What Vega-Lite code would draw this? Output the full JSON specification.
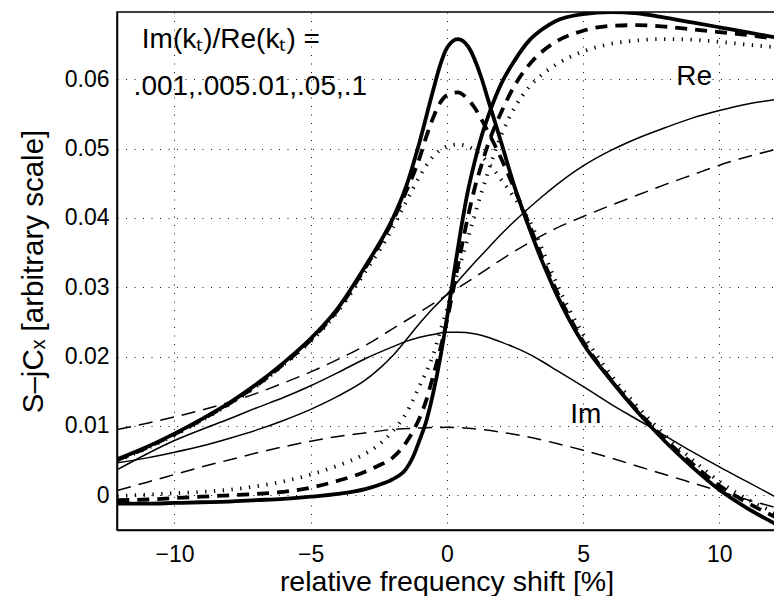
{
  "$schema": "https://vega.github.io/schema/vega-lite/v6.json",
  "width": 659,
  "height": 518,
  "autosize": {"type": "none"},
  "padding": {"left": 117, "top": 12, "right": 0, "bottom": 66},
  "background": "white",
  "config": {
    "font": "Liberation Sans",
    "view": {"stroke": "black", "strokeWidth": 1.5},
    "axis": {
      "labelFont": "Liberation Sans", "labelFontSize": 23, "labelColor": "black",
      "titleFont": "Liberation Sans", "titleFontSize": 28.5, "titleFontWeight": "normal", "titleColor": "black",
      "domainColor": "black", "domainWidth": 1.5,
      "ticks": false, "tickSize": 0,
      "grid": true, "gridColor": "#111", "gridDash": [1, 7.5], "gridWidth": 1, "gridOpacity": 1
    }
  },
  "datasets": {
    "curves": [
      {"k": ".001", "p": "Im", "x": -12.1, "y": 0.0052}, {"k": ".001", "p": "Im", "x": -11, "y": 0.0070}, {"k": ".001", "p": "Im", "x": -10, "y": 0.0089}, {"k": ".001", "p": "Im", "x": -9, "y": 0.0110}, {"k": ".001", "p": "Im", "x": -8, "y": 0.0133}, {"k": ".001", "p": "Im", "x": -7, "y": 0.0160}, {"k": ".001", "p": "Im", "x": -6, "y": 0.0191}, {"k": ".001", "p": "Im", "x": -5, "y": 0.0226}, {"k": ".001", "p": "Im", "x": -4, "y": 0.0270}, {"k": ".001", "p": "Im", "x": -3, "y": 0.0330}, {"k": ".001", "p": "Im", "x": -2.5, "y": 0.0362}, {"k": ".001", "p": "Im", "x": -2, "y": 0.0398}, {"k": ".001", "p": "Im", "x": -1.5, "y": 0.0445}, {"k": ".001", "p": "Im", "x": -1, "y": 0.0510}, {"k": ".001", "p": "Im", "x": -0.5, "y": 0.0585}, {"k": ".001", "p": "Im", "x": -0.25, "y": 0.0620}, {"k": ".001", "p": "Im", "x": 0, "y": 0.0645}, {"k": ".001", "p": "Im", "x": 0.4, "y": 0.0658}, {"k": ".001", "p": "Im", "x": 0.8, "y": 0.0646}, {"k": ".001", "p": "Im", "x": 1.25, "y": 0.0604}, {"k": ".001", "p": "Im", "x": 1.5, "y": 0.0572}, {"k": ".001", "p": "Im", "x": 2, "y": 0.0508}, {"k": ".001", "p": "Im", "x": 2.5, "y": 0.0443}, {"k": ".001", "p": "Im", "x": 3, "y": 0.0388}, {"k": ".001", "p": "Im", "x": 3.5, "y": 0.0337}, {"k": ".001", "p": "Im", "x": 4, "y": 0.0292}, {"k": ".001", "p": "Im", "x": 5, "y": 0.0219}, {"k": ".001", "p": "Im", "x": 6, "y": 0.0167}, {"k": ".001", "p": "Im", "x": 7, "y": 0.0120}, {"k": ".001", "p": "Im", "x": 8, "y": 0.0078}, {"k": ".001", "p": "Im", "x": 9, "y": 0.0041}, {"k": ".001", "p": "Im", "x": 10, "y": 0.0008}, {"k": ".001", "p": "Im", "x": 11, "y": -0.0018}, {"k": ".001", "p": "Im", "x": 12.1, "y": -0.0042},

      {"k": ".005", "p": "Im", "x": -12.1, "y": 0.0051}, {"k": ".005", "p": "Im", "x": -11, "y": 0.0069}, {"k": ".005", "p": "Im", "x": -10, "y": 0.0088}, {"k": ".005", "p": "Im", "x": -9, "y": 0.0109}, {"k": ".005", "p": "Im", "x": -8, "y": 0.0132}, {"k": ".005", "p": "Im", "x": -7, "y": 0.0158}, {"k": ".005", "p": "Im", "x": -6, "y": 0.0189}, {"k": ".005", "p": "Im", "x": -5, "y": 0.0224}, {"k": ".005", "p": "Im", "x": -4, "y": 0.0268}, {"k": ".005", "p": "Im", "x": -3, "y": 0.0328}, {"k": ".005", "p": "Im", "x": -2.5, "y": 0.0360}, {"k": ".005", "p": "Im", "x": -2, "y": 0.0395}, {"k": ".005", "p": "Im", "x": -1.5, "y": 0.0438}, {"k": ".005", "p": "Im", "x": -1, "y": 0.0487}, {"k": ".005", "p": "Im", "x": -0.75, "y": 0.0518}, {"k": ".005", "p": "Im", "x": -0.5, "y": 0.0545}, {"k": ".005", "p": "Im", "x": -0.25, "y": 0.0566}, {"k": ".005", "p": "Im", "x": 0, "y": 0.0577}, {"k": ".005", "p": "Im", "x": 0.4, "y": 0.0581}, {"k": ".005", "p": "Im", "x": 0.75, "y": 0.0572}, {"k": ".005", "p": "Im", "x": 1, "y": 0.0560}, {"k": ".005", "p": "Im", "x": 1.5, "y": 0.0525}, {"k": ".005", "p": "Im", "x": 2, "y": 0.0485}, {"k": ".005", "p": "Im", "x": 2.5, "y": 0.0440}, {"k": ".005", "p": "Im", "x": 3, "y": 0.0393}, {"k": ".005", "p": "Im", "x": 3.5, "y": 0.0342}, {"k": ".005", "p": "Im", "x": 4, "y": 0.0297}, {"k": ".005", "p": "Im", "x": 5, "y": 0.0222}, {"k": ".005", "p": "Im", "x": 6, "y": 0.0168}, {"k": ".005", "p": "Im", "x": 7, "y": 0.0122}, {"k": ".005", "p": "Im", "x": 8, "y": 0.0081}, {"k": ".005", "p": "Im", "x": 9, "y": 0.0046}, {"k": ".005", "p": "Im", "x": 10, "y": 0.0014}, {"k": ".005", "p": "Im", "x": 11, "y": -0.0010}, {"k": ".005", "p": "Im", "x": 12.1, "y": -0.0032},

      {"k": ".01", "p": "Im", "x": -12.1, "y": 0.0050}, {"k": ".01", "p": "Im", "x": -11, "y": 0.0068}, {"k": ".01", "p": "Im", "x": -10, "y": 0.0087}, {"k": ".01", "p": "Im", "x": -9, "y": 0.0108}, {"k": ".01", "p": "Im", "x": -8, "y": 0.0131}, {"k": ".01", "p": "Im", "x": -7, "y": 0.0157}, {"k": ".01", "p": "Im", "x": -6, "y": 0.0188}, {"k": ".01", "p": "Im", "x": -5, "y": 0.0222}, {"k": ".01", "p": "Im", "x": -4, "y": 0.0265}, {"k": ".01", "p": "Im", "x": -3, "y": 0.0322}, {"k": ".01", "p": "Im", "x": -2.5, "y": 0.0352}, {"k": ".01", "p": "Im", "x": -2, "y": 0.0385}, {"k": ".01", "p": "Im", "x": -1.5, "y": 0.0423}, {"k": ".01", "p": "Im", "x": -1, "y": 0.0460}, {"k": ".01", "p": "Im", "x": -0.5, "y": 0.0489}, {"k": ".01", "p": "Im", "x": 0, "y": 0.0503}, {"k": ".01", "p": "Im", "x": 0.4, "y": 0.0506}, {"k": ".01", "p": "Im", "x": 1, "y": 0.0498}, {"k": ".01", "p": "Im", "x": 1.5, "y": 0.0480}, {"k": ".01", "p": "Im", "x": 2, "y": 0.0455}, {"k": ".01", "p": "Im", "x": 2.5, "y": 0.0428}, {"k": ".01", "p": "Im", "x": 3, "y": 0.0398}, {"k": ".01", "p": "Im", "x": 3.5, "y": 0.0355}, {"k": ".01", "p": "Im", "x": 4, "y": 0.0308}, {"k": ".01", "p": "Im", "x": 5, "y": 0.0232}, {"k": ".01", "p": "Im", "x": 6, "y": 0.0175}, {"k": ".01", "p": "Im", "x": 7, "y": 0.0128}, {"k": ".01", "p": "Im", "x": 8, "y": 0.0087}, {"k": ".01", "p": "Im", "x": 9, "y": 0.0052}, {"k": ".01", "p": "Im", "x": 10, "y": 0.0020}, {"k": ".01", "p": "Im", "x": 11, "y": -0.0005}, {"k": ".01", "p": "Im", "x": 12.1, "y": -0.0026},

      {"k": ".05", "p": "Im", "x": -12.1, "y": 0.0037}, {"k": ".05", "p": "Im", "x": -11, "y": 0.0060}, {"k": ".05", "p": "Im", "x": -10, "y": 0.0079}, {"k": ".05", "p": "Im", "x": -9, "y": 0.0095}, {"k": ".05", "p": "Im", "x": -8, "y": 0.0110}, {"k": ".05", "p": "Im", "x": -7, "y": 0.0126}, {"k": ".05", "p": "Im", "x": -6, "y": 0.0141}, {"k": ".05", "p": "Im", "x": -5, "y": 0.0158}, {"k": ".05", "p": "Im", "x": -4, "y": 0.0177}, {"k": ".05", "p": "Im", "x": -3, "y": 0.0197}, {"k": ".05", "p": "Im", "x": -2, "y": 0.0214}, {"k": ".05", "p": "Im", "x": -1.5, "y": 0.0222}, {"k": ".05", "p": "Im", "x": -1, "y": 0.0228}, {"k": ".05", "p": "Im", "x": -0.5, "y": 0.0232}, {"k": ".05", "p": "Im", "x": 0, "y": 0.0235}, {"k": ".05", "p": "Im", "x": 0.4, "y": 0.0235}, {"k": ".05", "p": "Im", "x": 1, "y": 0.0233}, {"k": ".05", "p": "Im", "x": 1.5, "y": 0.0228}, {"k": ".05", "p": "Im", "x": 2, "y": 0.0221}, {"k": ".05", "p": "Im", "x": 2.5, "y": 0.0213}, {"k": ".05", "p": "Im", "x": 3, "y": 0.0204}, {"k": ".05", "p": "Im", "x": 3.5, "y": 0.0193}, {"k": ".05", "p": "Im", "x": 4, "y": 0.0181}, {"k": ".05", "p": "Im", "x": 5, "y": 0.0157}, {"k": ".05", "p": "Im", "x": 6, "y": 0.0132}, {"k": ".05", "p": "Im", "x": 7, "y": 0.0109}, {"k": ".05", "p": "Im", "x": 8, "y": 0.0086}, {"k": ".05", "p": "Im", "x": 9, "y": 0.0063}, {"k": ".05", "p": "Im", "x": 10, "y": 0.0041}, {"k": ".05", "p": "Im", "x": 11, "y": 0.0020}, {"k": ".05", "p": "Im", "x": 12.1, "y": -0.0003},

      {"k": ".1", "p": "Im", "x": -12.1, "y": 0.0007}, {"k": ".1", "p": "Im", "x": -11, "y": 0.0019}, {"k": ".1", "p": "Im", "x": -10, "y": 0.0030}, {"k": ".1", "p": "Im", "x": -9, "y": 0.0041}, {"k": ".1", "p": "Im", "x": -8, "y": 0.0051}, {"k": ".1", "p": "Im", "x": -7, "y": 0.0061}, {"k": ".1", "p": "Im", "x": -6, "y": 0.0070}, {"k": ".1", "p": "Im", "x": -5, "y": 0.0078}, {"k": ".1", "p": "Im", "x": -4, "y": 0.0085}, {"k": ".1", "p": "Im", "x": -3, "y": 0.0090}, {"k": ".1", "p": "Im", "x": -2, "y": 0.0095}, {"k": ".1", "p": "Im", "x": -1, "y": 0.0097}, {"k": ".1", "p": "Im", "x": 0, "y": 0.0098}, {"k": ".1", "p": "Im", "x": 1, "y": 0.0096}, {"k": ".1", "p": "Im", "x": 2, "y": 0.0091}, {"k": ".1", "p": "Im", "x": 3, "y": 0.0084}, {"k": ".1", "p": "Im", "x": 4, "y": 0.0075}, {"k": ".1", "p": "Im", "x": 5, "y": 0.0065}, {"k": ".1", "p": "Im", "x": 6, "y": 0.0054}, {"k": ".1", "p": "Im", "x": 7, "y": 0.0042}, {"k": ".1", "p": "Im", "x": 8, "y": 0.0030}, {"k": ".1", "p": "Im", "x": 9, "y": 0.0018}, {"k": ".1", "p": "Im", "x": 10, "y": 0.0006}, {"k": ".1", "p": "Im", "x": 11, "y": -0.0006}, {"k": ".1", "p": "Im", "x": 12.1, "y": -0.0018},

      {"k": ".001", "p": "Re", "x": -12.1, "y": -0.0012}, {"k": ".001", "p": "Re", "x": -11, "y": -0.0012}, {"k": ".001", "p": "Re", "x": -10, "y": -0.0011}, {"k": ".001", "p": "Re", "x": -9, "y": -0.0010}, {"k": ".001", "p": "Re", "x": -8, "y": -0.0009}, {"k": ".001", "p": "Re", "x": -7, "y": -0.0007}, {"k": ".001", "p": "Re", "x": -6, "y": -0.0005}, {"k": ".001", "p": "Re", "x": -5, "y": -0.0002}, {"k": ".001", "p": "Re", "x": -4, "y": 0.0002}, {"k": ".001", "p": "Re", "x": -3, "y": 0.0009}, {"k": ".001", "p": "Re", "x": -2.5, "y": 0.0015}, {"k": ".001", "p": "Re", "x": -2, "y": 0.0023}, {"k": ".001", "p": "Re", "x": -1.5, "y": 0.0038}, {"k": ".001", "p": "Re", "x": -1.25, "y": 0.0055}, {"k": ".001", "p": "Re", "x": -1, "y": 0.0080}, {"k": ".001", "p": "Re", "x": -0.75, "y": 0.0108}, {"k": ".001", "p": "Re", "x": -0.5, "y": 0.0148}, {"k": ".001", "p": "Re", "x": -0.25, "y": 0.0197}, {"k": ".001", "p": "Re", "x": 0, "y": 0.0255}, {"k": ".001", "p": "Re", "x": 0.25, "y": 0.0318}, {"k": ".001", "p": "Re", "x": 0.5, "y": 0.0380}, {"k": ".001", "p": "Re", "x": 0.75, "y": 0.0435}, {"k": ".001", "p": "Re", "x": 1, "y": 0.0478}, {"k": ".001", "p": "Re", "x": 1.25, "y": 0.0515}, {"k": ".001", "p": "Re", "x": 1.5, "y": 0.0545}, {"k": ".001", "p": "Re", "x": 2, "y": 0.0594}, {"k": ".001", "p": "Re", "x": 2.5, "y": 0.0628}, {"k": ".001", "p": "Re", "x": 3, "y": 0.0655}, {"k": ".001", "p": "Re", "x": 3.5, "y": 0.0672}, {"k": ".001", "p": "Re", "x": 4, "y": 0.0684}, {"k": ".001", "p": "Re", "x": 5, "y": 0.0694}, {"k": ".001", "p": "Re", "x": 6, "y": 0.0697}, {"k": ".001", "p": "Re", "x": 7, "y": 0.0695}, {"k": ".001", "p": "Re", "x": 8, "y": 0.0689}, {"k": ".001", "p": "Re", "x": 9, "y": 0.0682}, {"k": ".001", "p": "Re", "x": 10, "y": 0.0675}, {"k": ".001", "p": "Re", "x": 11, "y": 0.0668}, {"k": ".001", "p": "Re", "x": 12.1, "y": 0.0660},

      {"k": ".005", "p": "Re", "x": -12.1, "y": -0.0007}, {"k": ".005", "p": "Re", "x": -11, "y": -0.0006}, {"k": ".005", "p": "Re", "x": -10, "y": -0.0004}, {"k": ".005", "p": "Re", "x": -9, "y": -0.0002}, {"k": ".005", "p": "Re", "x": -8, "y": 0.0000}, {"k": ".005", "p": "Re", "x": -7, "y": 0.0002}, {"k": ".005", "p": "Re", "x": -6, "y": 0.0005}, {"k": ".005", "p": "Re", "x": -5, "y": 0.0011}, {"k": ".005", "p": "Re", "x": -4, "y": 0.0021}, {"k": ".005", "p": "Re", "x": -3, "y": 0.0034}, {"k": ".005", "p": "Re", "x": -2.5, "y": 0.0043}, {"k": ".005", "p": "Re", "x": -2, "y": 0.0054}, {"k": ".005", "p": "Re", "x": -1.5, "y": 0.0076}, {"k": ".005", "p": "Re", "x": -1.25, "y": 0.0092}, {"k": ".005", "p": "Re", "x": -1, "y": 0.0112}, {"k": ".005", "p": "Re", "x": -0.75, "y": 0.0138}, {"k": ".005", "p": "Re", "x": -0.5, "y": 0.0173}, {"k": ".005", "p": "Re", "x": -0.25, "y": 0.0210}, {"k": ".005", "p": "Re", "x": 0, "y": 0.0252}, {"k": ".005", "p": "Re", "x": 0.25, "y": 0.0300}, {"k": ".005", "p": "Re", "x": 0.5, "y": 0.0350}, {"k": ".005", "p": "Re", "x": 0.75, "y": 0.0398}, {"k": ".005", "p": "Re", "x": 1, "y": 0.0440}, {"k": ".005", "p": "Re", "x": 1.25, "y": 0.0474}, {"k": ".005", "p": "Re", "x": 1.5, "y": 0.0505}, {"k": ".005", "p": "Re", "x": 2, "y": 0.0553}, {"k": ".005", "p": "Re", "x": 2.5, "y": 0.0592}, {"k": ".005", "p": "Re", "x": 3, "y": 0.0620}, {"k": ".005", "p": "Re", "x": 3.5, "y": 0.0640}, {"k": ".005", "p": "Re", "x": 4, "y": 0.0654}, {"k": ".005", "p": "Re", "x": 5, "y": 0.0670}, {"k": ".005", "p": "Re", "x": 6, "y": 0.0677}, {"k": ".005", "p": "Re", "x": 7, "y": 0.0678}, {"k": ".005", "p": "Re", "x": 8, "y": 0.0676}, {"k": ".005", "p": "Re", "x": 9, "y": 0.0672}, {"k": ".005", "p": "Re", "x": 10, "y": 0.0668}, {"k": ".005", "p": "Re", "x": 11, "y": 0.0664}, {"k": ".005", "p": "Re", "x": 12.1, "y": 0.0658},

      {"k": ".01", "p": "Re", "x": -12.1, "y": -0.0001}, {"k": ".01", "p": "Re", "x": -11, "y": 0.0001}, {"k": ".01", "p": "Re", "x": -10, "y": 0.0003}, {"k": ".01", "p": "Re", "x": -9, "y": 0.0005}, {"k": ".01", "p": "Re", "x": -8, "y": 0.0008}, {"k": ".01", "p": "Re", "x": -7, "y": 0.0013}, {"k": ".01", "p": "Re", "x": -6, "y": 0.0020}, {"k": ".01", "p": "Re", "x": -5, "y": 0.0030}, {"k": ".01", "p": "Re", "x": -4, "y": 0.0043}, {"k": ".01", "p": "Re", "x": -3, "y": 0.0060}, {"k": ".01", "p": "Re", "x": -2.5, "y": 0.0073}, {"k": ".01", "p": "Re", "x": -2, "y": 0.0092}, {"k": ".01", "p": "Re", "x": -1.5, "y": 0.0118}, {"k": ".01", "p": "Re", "x": -1, "y": 0.0158}, {"k": ".01", "p": "Re", "x": -0.5, "y": 0.0203}, {"k": ".01", "p": "Re", "x": -0.25, "y": 0.0236}, {"k": ".01", "p": "Re", "x": 0, "y": 0.0268}, {"k": ".01", "p": "Re", "x": 0.25, "y": 0.0302}, {"k": ".01", "p": "Re", "x": 0.5, "y": 0.0335}, {"k": ".01", "p": "Re", "x": 1, "y": 0.0402}, {"k": ".01", "p": "Re", "x": 1.5, "y": 0.0465}, {"k": ".01", "p": "Re", "x": 2, "y": 0.0520}, {"k": ".01", "p": "Re", "x": 2.5, "y": 0.0560}, {"k": ".01", "p": "Re", "x": 3, "y": 0.0588}, {"k": ".01", "p": "Re", "x": 3.5, "y": 0.0607}, {"k": ".01", "p": "Re", "x": 4, "y": 0.0621}, {"k": ".01", "p": "Re", "x": 5, "y": 0.0640}, {"k": ".01", "p": "Re", "x": 6, "y": 0.0651}, {"k": ".01", "p": "Re", "x": 7, "y": 0.0656}, {"k": ".01", "p": "Re", "x": 8, "y": 0.0658}, {"k": ".01", "p": "Re", "x": 9, "y": 0.0657}, {"k": ".01", "p": "Re", "x": 10, "y": 0.0654}, {"k": ".01", "p": "Re", "x": 11, "y": 0.0650}, {"k": ".01", "p": "Re", "x": 12.1, "y": 0.0646},

      {"k": ".05", "p": "Re", "x": -12.1, "y": 0.0047}, {"k": ".05", "p": "Re", "x": -11, "y": 0.0054}, {"k": ".05", "p": "Re", "x": -10, "y": 0.0062}, {"k": ".05", "p": "Re", "x": -9, "y": 0.0071}, {"k": ".05", "p": "Re", "x": -8, "y": 0.0082}, {"k": ".05", "p": "Re", "x": -7, "y": 0.0094}, {"k": ".05", "p": "Re", "x": -6, "y": 0.0108}, {"k": ".05", "p": "Re", "x": -5, "y": 0.0124}, {"k": ".05", "p": "Re", "x": -4, "y": 0.0143}, {"k": ".05", "p": "Re", "x": -3, "y": 0.0166}, {"k": ".05", "p": "Re", "x": -2.5, "y": 0.0182}, {"k": ".05", "p": "Re", "x": -2, "y": 0.0201}, {"k": ".05", "p": "Re", "x": -1.5, "y": 0.0224}, {"k": ".05", "p": "Re", "x": -1, "y": 0.0248}, {"k": ".05", "p": "Re", "x": -0.5, "y": 0.0270}, {"k": ".05", "p": "Re", "x": 0, "y": 0.0290}, {"k": ".05", "p": "Re", "x": 0.5, "y": 0.0313}, {"k": ".05", "p": "Re", "x": 1, "y": 0.0335}, {"k": ".05", "p": "Re", "x": 1.5, "y": 0.0356}, {"k": ".05", "p": "Re", "x": 2, "y": 0.0377}, {"k": ".05", "p": "Re", "x": 2.5, "y": 0.0396}, {"k": ".05", "p": "Re", "x": 3, "y": 0.0414}, {"k": ".05", "p": "Re", "x": 3.5, "y": 0.0431}, {"k": ".05", "p": "Re", "x": 4, "y": 0.0447}, {"k": ".05", "p": "Re", "x": 5, "y": 0.0475}, {"k": ".05", "p": "Re", "x": 6, "y": 0.0497}, {"k": ".05", "p": "Re", "x": 7, "y": 0.0515}, {"k": ".05", "p": "Re", "x": 8, "y": 0.0530}, {"k": ".05", "p": "Re", "x": 9, "y": 0.0544}, {"k": ".05", "p": "Re", "x": 10, "y": 0.0555}, {"k": ".05", "p": "Re", "x": 11, "y": 0.0564}, {"k": ".05", "p": "Re", "x": 12.1, "y": 0.0571},

      {"k": ".1", "p": "Re", "x": -12.1, "y": 0.0095}, {"k": ".1", "p": "Re", "x": -11, "y": 0.0104}, {"k": ".1", "p": "Re", "x": -10, "y": 0.0113}, {"k": ".1", "p": "Re", "x": -9, "y": 0.0123}, {"k": ".1", "p": "Re", "x": -8, "y": 0.0134}, {"k": ".1", "p": "Re", "x": -7, "y": 0.0147}, {"k": ".1", "p": "Re", "x": -6, "y": 0.0162}, {"k": ".1", "p": "Re", "x": -5, "y": 0.0178}, {"k": ".1", "p": "Re", "x": -4, "y": 0.0196}, {"k": ".1", "p": "Re", "x": -3, "y": 0.0216}, {"k": ".1", "p": "Re", "x": -2, "y": 0.0240}, {"k": ".1", "p": "Re", "x": -1, "y": 0.0264}, {"k": ".1", "p": "Re", "x": 0, "y": 0.0289}, {"k": ".1", "p": "Re", "x": 1, "y": 0.0314}, {"k": ".1", "p": "Re", "x": 2, "y": 0.0340}, {"k": ".1", "p": "Re", "x": 3, "y": 0.0364}, {"k": ".1", "p": "Re", "x": 4, "y": 0.0385}, {"k": ".1", "p": "Re", "x": 5, "y": 0.0402}, {"k": ".1", "p": "Re", "x": 6, "y": 0.0418}, {"k": ".1", "p": "Re", "x": 7, "y": 0.0433}, {"k": ".1", "p": "Re", "x": 8, "y": 0.0448}, {"k": ".1", "p": "Re", "x": 9, "y": 0.0462}, {"k": ".1", "p": "Re", "x": 10, "y": 0.0476}, {"k": ".1", "p": "Re", "x": 11, "y": 0.0488}, {"k": ".1", "p": "Re", "x": 12.1, "y": 0.0499}
    ],
    "notes": [
      {"x": -11.2, "y": 0.0645, "label": "Im(kₜ)/Re(kₜ) ="},
      {"x": -11.5, "y": 0.0577, "label": ".001,.005.01,.05,.1"},
      {"x": 8.42, "y": 0.0592, "label": "Re"},
      {"x": 4.53, "y": 0.0105, "label": "Im"}
    ]
  },
  "encoding": {
    "x": {
      "field": "x", "type": "quantitative",
      "scale": {"domain": [-12.11, 12.08], "nice": false, "zero": false},
      "axis": {"values": [-10, -5, 0, 5, 10], "title": "relative frequency shift [%]", "labelPadding": 13, "titlePadding": 1}
    },
    "y": {
      "field": "y", "type": "quantitative",
      "scale": {"domain": [-0.005, 0.0697], "nice": false, "zero": false},
      "axis": {"values": [0, 0.01, 0.02, 0.03, 0.04, 0.05, 0.06], "format": ".2~f", "title": "S–jCₓ [arbitrary scale]", "titleFontSize": 29.5, "labelPadding": 8, "titlePadding": 16}
    }
  },
  "layer": [
    {"data": {"name": "curves"}, "transform": [{"filter": "datum.k === '.05'"}],
     "mark": {"type": "line", "color": "black", "strokeWidth": 1.5, "interpolate": "monotone", "clip": true},
     "encoding": {"detail": {"field": "p"}}},
    {"data": {"name": "curves"}, "transform": [{"filter": "datum.k === '.1'"}],
     "mark": {"type": "line", "color": "black", "strokeWidth": 1.5, "strokeDash": [14, 8], "interpolate": "monotone", "clip": true},
     "encoding": {"detail": {"field": "p"}}},
    {"data": {"name": "curves"}, "transform": [{"filter": "datum.k === '.01'"}],
     "mark": {"type": "line", "color": "black", "strokeWidth": 3.8, "strokeDash": [1.3, 7.5], "strokeCap": "butt", "interpolate": "monotone", "clip": true},
     "encoding": {"detail": {"field": "p"}}},
    {"data": {"name": "curves"}, "transform": [{"filter": "datum.k === '.005'"}],
     "mark": {"type": "line", "color": "black", "strokeWidth": 3.8, "strokeDash": [12, 8], "strokeCap": "butt", "interpolate": "monotone", "clip": true},
     "encoding": {"detail": {"field": "p"}}},
    {"data": {"name": "curves"}, "transform": [{"filter": "datum.k === '.001'"}],
     "mark": {"type": "line", "color": "black", "strokeWidth": 3.8, "interpolate": "monotone", "clip": true},
     "encoding": {"detail": {"field": "p"}}},
    {"data": {"name": "notes"},
     "mark": {"type": "text", "align": "left", "baseline": "alphabetic", "font": "Liberation Sans", "fontSize": 28, "color": "black"},
     "encoding": {"text": {"field": "label"}}}
  ]
}
